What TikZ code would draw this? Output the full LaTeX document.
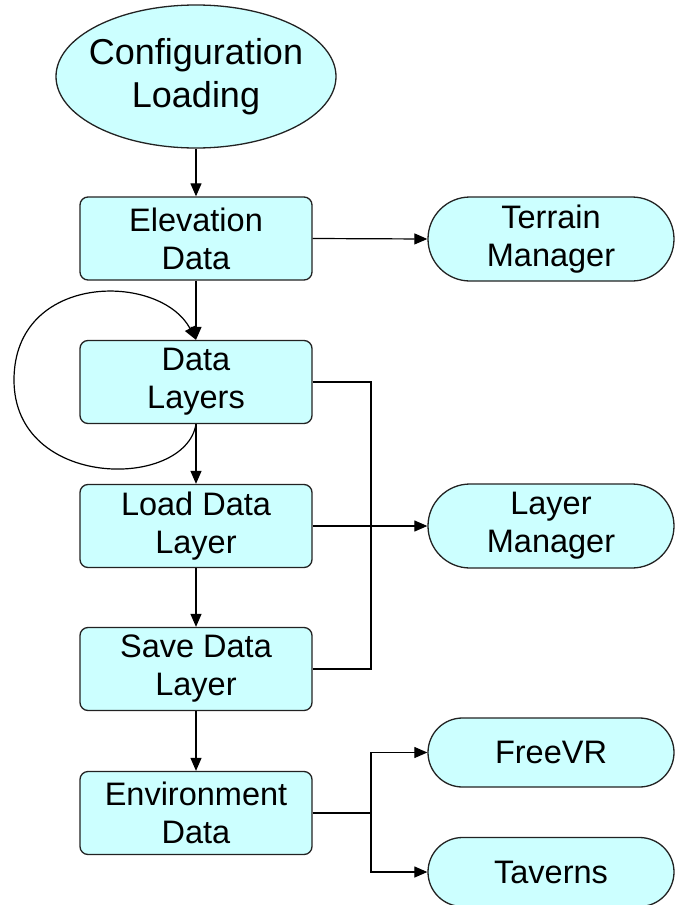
\documentclass[tikz,border=0pt]{standalone}
\usepackage{fontspec}
\setmainfont{Liberation Sans}
\usetikzlibrary{shapes.geometric,shapes.misc,arrows.meta}
\definecolor{boxfill}{HTML}{CCFFFF}
\definecolor{boxline}{HTML}{222222}
\tikzset{
  base/.style={draw=boxline, fill=boxfill, line width=1.3pt, align=center, inner sep=0pt, text=black},
  oval/.style={base, ellipse, inner sep=-30pt, minimum width=280pt, minimum height=143pt, font=\fontsize{36}{43}\selectfont},
  stepbox/.style={base, rectangle, rounded corners=8pt, minimum width=232pt, minimum height=83pt, font=\fontsize{32.5}{38}\selectfont},
  pill/.style={base, rounded rectangle, minimum width=246pt, minimum height=84pt, font=\fontsize{32.5}{38}\selectfont},
  conn/.style={line width=1.2pt, draw=black},
  arr/.style={conn, -{Triangle[length=13pt,width=11pt]}}
}
\begin{document}
\begin{tikzpicture}[x=1pt,y=-1pt]
\useasboundingbox (0,0) rectangle (675,905);
\node[oval] (cfg) at (196,76.5) {Configuration\\Loading};
\node[stepbox] (elev) at (196,238.5) {Elevation\\Data};
\node[stepbox] (dl) at (196,382) {Data\\Layers};
\node[stepbox] (load) at (196,526) {Load Data\\Layer};
\node[stepbox] (save) at (196,669) {Save Data\\Layer};
\node[stepbox] (env) at (196,813) {Environment\\Data};
\node[pill] (terrain) at (551,239) {Terrain\\Manager};
\node[pill] (lm) at (551,526) {Layer\\Manager};
\node[pill, minimum height=69pt] (freevr) at (551,752.5) {FreeVR};
\node[pill, minimum height=69pt] (tav) at (551,872) {Taverns};

\draw[arr] (cfg.south) -- (elev.north);
\draw[arr] (elev.south) -- (dl.north);
\draw[arr] (dl.south) -- (load.north);
\draw[arr] (load.south) -- (save.north);
\draw[arr] (save.south) -- (env.north);
\draw[arr] (elev.east) -- (terrain.west);
\draw[arr] (load.east) -- (lm.west);

\coordinate (dlr) at (371,382);
\coordinate (saver) at (371,669);
\draw[conn] (dl.east) -- (dlr) -- (saver) -- (save.east);

\coordinate (envj) at (371,813);
\draw[conn] (env.east) -- (envj);
\draw[arr] (envj) |- (freevr.west);
\draw[arr] (envj) |- (tav.west);

\coordinate (loopl) at (14,380);
\draw[arr] (dl.south) .. controls (185,490) and (14,490) .. (loopl)
  .. controls (14,272) and (160,272) .. (dl.north);
\end{tikzpicture}
\end{document}
